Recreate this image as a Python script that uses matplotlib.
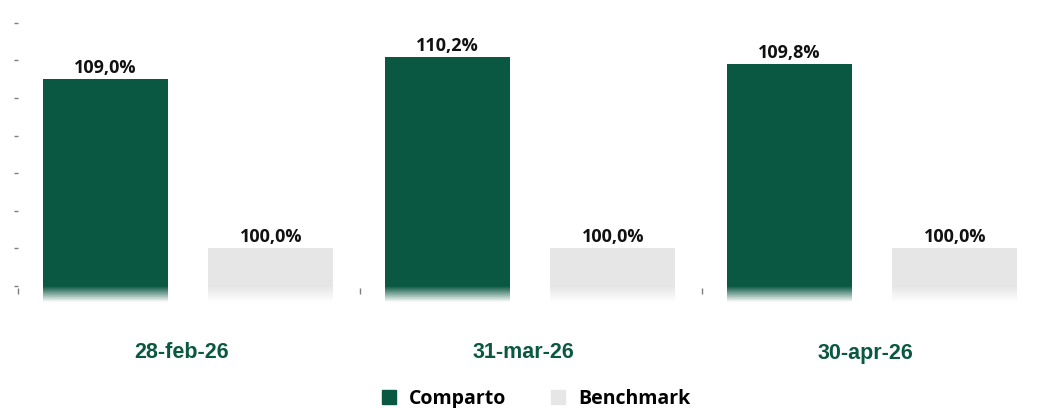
import matplotlib

matplotlib.use("Agg")
import matplotlib.pyplot as plt
import matplotlib.transforms as mtransforms
import numpy as np
from matplotlib.lines import Line2D

categories = ["28-feb-26", "31-mar-26", "30-apr-26"]
comparto = [109.0, 110.2, 109.8]
benchmark = [100.0, 100.0, 100.0]
series_names = ["Comparto", "Benchmark"]

GREEN = "#0b5842"
GREY = "#e6e6e6"
Y_BASE = 97.15  # bars start here, faded out below 98
Y_MIN, Y_MAX = 97.57, 113.05

fig = plt.figure(figsize=(10.38, 4.08), dpi=100)
# plot area runs from x=18px to past the right edge, like the source
ax = fig.add_axes([18 / 1038, 1 - 294 / 408, 1026 / 1038, (294 - 3) / 408])

x = np.arange(len(categories))
w = 0.365
offs = [-0.244, 0.239]
for vals, off, col in [(comparto, offs[0], GREEN), (benchmark, offs[1], GREY)]:
    heights = np.array(vals) - Y_BASE
    bars = ax.bar(x + off, heights, w, bottom=Y_BASE, color=col, clip_on=False, zorder=1)
    for b, v in zip(bars, vals):
        ax.text(b.get_x() + b.get_width() / 2, v + 0.1, f"{v:.1f}%".replace(".", ","),
                ha="center", va="bottom", fontsize=13, fontweight="bold",
                family="Open Sans", color="#111111")

# white fade over the bar feet
grad = np.ones((64, 2, 4))
grad[:, :, 3] = np.linspace(0, 1, 64)[:, None]
ax.imshow(grad, extent=(-0.5, 2.5, Y_BASE, 98.0), aspect="auto", origin="upper",
          clip_on=False, zorder=2, interpolation="bilinear")

ax.set_xlim(-0.5, 2.5)
ax.set_ylim(Y_MIN, Y_MAX)
for s in ax.spines.values():
    s.set_visible(False)
ax.set_axisbelow(False)

ax.set_yticks(np.arange(98, 113, 2))
ax.set_yticklabels([])
ax.tick_params(axis="y", length=3, width=1, color="#7f7f7f", direction="out", pad=3)

ax.set_xticks([])
ax.set_xticks([-0.5, 0.5, 1.5], minor=True)
ax.tick_params(axis="x", which="minor", length=4, width=1, color="#7f7f7f", direction="in")

trans = mtransforms.blended_transform_factory(ax.transData, fig.transFigure)
for i, c in enumerate(categories):
    ax.text(i - 0.023, 1 - 353 / 408, c, transform=trans, ha="center", va="center",
            fontsize=15.5, fontweight="bold", family="Liberation Sans", color=GREEN,
            clip_on=False)

handles = [Line2D([], [], marker="s", linestyle="", markersize=10, color=GREEN),
           Line2D([], [], marker="s", linestyle="", markersize=10, color=GREY)]
fig.legend(handles, series_names, loc="center", bbox_to_anchor=(535 / 1038, 1 - 399 / 408),
           ncol=2, frameon=False, handlelength=1.0, handletextpad=0.55, columnspacing=2.15,
           prop={"family": "Open Sans", "weight": "bold", "size": 14})

fig.savefig("out.png", dpi=100)
